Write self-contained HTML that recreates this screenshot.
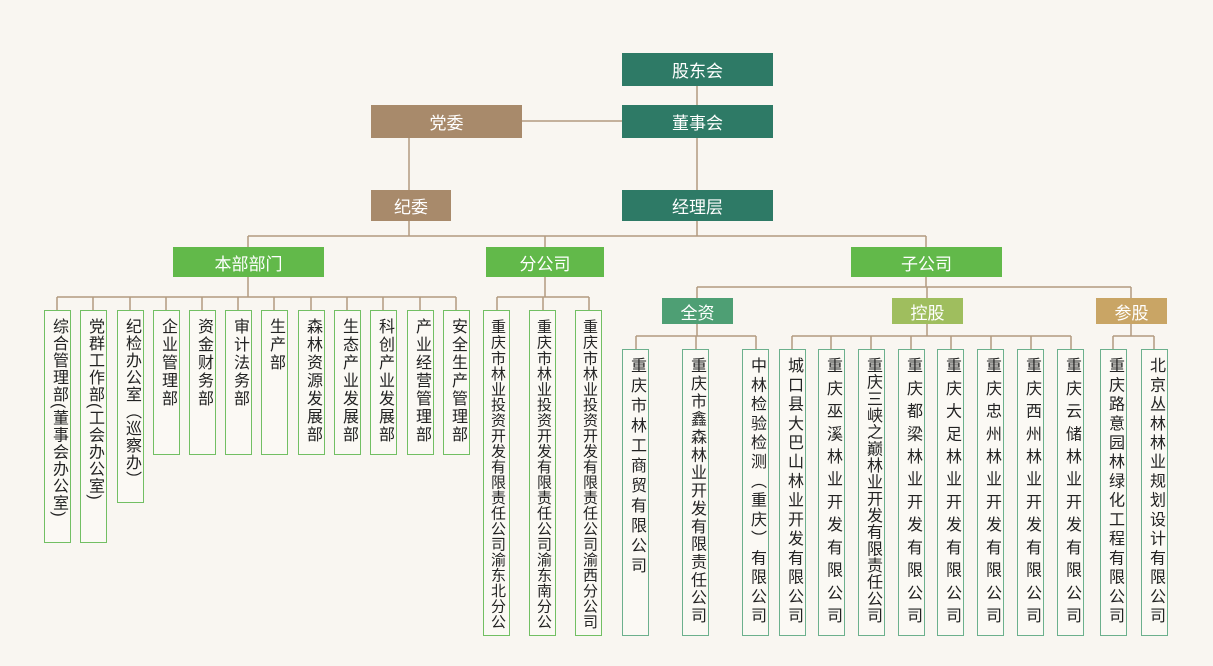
<!DOCTYPE html>
<html><head><meta charset="utf-8"><style>
body{margin:0;width:1213px;height:666px;background:#f9f6f1;position:relative;overflow:hidden;font-family:"Liberation Sans","Noto Sans CJK SC",sans-serif}
.b{position:absolute;color:#fff;display:flex;align-items:center;justify-content:center;font-size:17px}
.dg{background:#2e7a66}.br{background:#a88a6b}.g{background:#62b94a}
.v{position:absolute;box-sizing:border-box;border:1.5px solid #72bf63;background:#fbf9f4;width:27px;writing-mode:vertical-rl;font-size:16px;line-height:24px;color:#222;padding-top:7px;letter-spacing:2px;white-space:nowrap;overflow:hidden}
.j{white-space:normal;text-align:justify;text-align-last:justify;letter-spacing:0;padding-bottom:12px}
.s{font-size:15px;padding-top:8px;padding-bottom:6px}
.v2{border-color:#6cb08d}
svg{position:absolute;left:0;top:0}
</style></head><body>
<svg width="1213" height="666" fill="none" stroke="#b39a80" stroke-width="1.5">
<path d="M697 86V105M522 121H622M409 137V190M697 137V190M409 221V236M697 221V236M248 236H926M248 236V247M545 236V247M926 236V247"/>
<path d="M248 277V297M57 297H456M57 297V310M93 297V310M130 297V310M166 297V310M202 297V310M238 297V310M274 297V310M311 297V310M347 297V310M383 297V310M420 297V310M456 297V310"/>
<path d="M545 277V297M497 297H589M497 297V310M543 297V310M589 297V310"/>
<path d="M926 277V287M697 287H1131M697 287V298M927 287V298M1131 287V298"/>
<path d="M697 324V336M636 336H756M636 336V349M696 336V349M756 336V349"/>
<path d="M927 324V336M792 336H1071M792 336V349M831 336V349M871 336V349M911 336V349M951 336V349M991 336V349M1031 336V349M1071 336V349"/>
<path d="M1131 324V336M1113 336H1154M1113 336V349M1154 336V349"/>
</svg>
<div class="b dg" style="left:622px;top:53px;width:151px;height:33px">股东会</div>
<div class="b dg" style="left:622px;top:105px;width:151px;height:33px">董事会</div>
<div class="b br" style="left:371px;top:105px;width:151px;height:33px">党委</div>
<div class="b br" style="left:371px;top:190px;width:80px;height:31px">纪委</div>
<div class="b dg" style="left:622px;top:190px;width:151px;height:31px">经理层</div>
<div class="b g" style="left:173px;top:247px;width:151px;height:30px">本部部门</div>
<div class="b g" style="left:486px;top:247px;width:118px;height:30px">分公司</div>
<div class="b g" style="left:851px;top:247px;width:151px;height:30px">子公司</div>
<div class="b" style="left:662px;top:298px;width:71px;height:26px;background:#4e9f74">全资</div>
<div class="b" style="left:892px;top:298px;width:71px;height:26px;background:#9fbe5e">控股</div>
<div class="b" style="left:1096px;top:298px;width:71px;height:26px;background:#c9a565">参股</div>

<div class="v" style="left:44px;top:310px;height:233px;letter-spacing:1px">综合管理部(董事会办公室)</div>
<div class="v" style="left:80px;top:310px;height:233px;letter-spacing:1px">党群工作部(工会办公室)</div>
<div class="v" style="left:117px;top:310px;height:193px;letter-spacing:1px">纪检办公室（巡察办）</div>
<div class="v" style="left:153px;top:310px;height:145px">企业管理部</div>
<div class="v" style="left:189px;top:310px;height:145px">资金财务部</div>
<div class="v" style="left:225px;top:310px;height:145px">审计法务部</div>
<div class="v" style="left:261px;top:310px;height:145px">生产部</div>
<div class="v" style="left:298px;top:310px;height:145px">森林资源发展部</div>
<div class="v" style="left:334px;top:310px;height:145px">生态产业发展部</div>
<div class="v" style="left:370px;top:310px;height:145px">科创产业发展部</div>
<div class="v" style="left:407px;top:310px;height:145px">产业经营管理部</div>
<div class="v" style="left:443px;top:310px;height:145px">安全生产管理部</div>

<div class="v j s" style="left:483px;top:310px;height:326px">重庆市林业投资开发有限责任公司渝东北分公司</div>
<div class="v j s" style="left:529px;top:310px;height:326px">重庆市林业投资开发有限责任公司渝东南分公司</div>
<div class="v j s" style="left:575px;top:310px;height:326px">重庆市林业投资开发有限责任公司渝西分公司</div>

<div class="v v2" style="left:622px;top:349px;height:287px;letter-spacing:4px">重庆市林工商贸有限公司</div>
<div class="v v2 j" style="left:682px;top:349px;height:287px">重庆市鑫森林业开发有限责任公司</div>
<div class="v v2 j" style="left:742px;top:349px;height:287px">中林检验检测（重庆）有限公司</div>
<div class="v v2 j" style="left:779px;top:349px;height:287px">城口县大巴山林业开发有限公司</div>
<div class="v v2 j" style="left:818px;top:349px;height:287px">重庆巫溪林业开发有限公司</div>
<div class="v v2 j" style="left:858px;top:349px;height:287px">重庆三峡之巅林业开发有限责任公司</div>
<div class="v v2 j" style="left:898px;top:349px;height:287px">重庆都梁林业开发有限公司</div>
<div class="v v2 j" style="left:937px;top:349px;height:287px">重庆大足林业开发有限公司</div>
<div class="v v2 j" style="left:977px;top:349px;height:287px">重庆忠州林业开发有限公司</div>
<div class="v v2 j" style="left:1017px;top:349px;height:287px">重庆西州林业开发有限公司</div>
<div class="v v2 j" style="left:1057px;top:349px;height:287px">重庆云储林业开发有限公司</div>
<div class="v v2 j" style="left:1100px;top:349px;height:287px">重庆路意园林绿化工程有限公司</div>
<div class="v v2 j" style="left:1141px;top:349px;height:287px">北京丛林林业规划设计有限公司</div>
</body></html>
